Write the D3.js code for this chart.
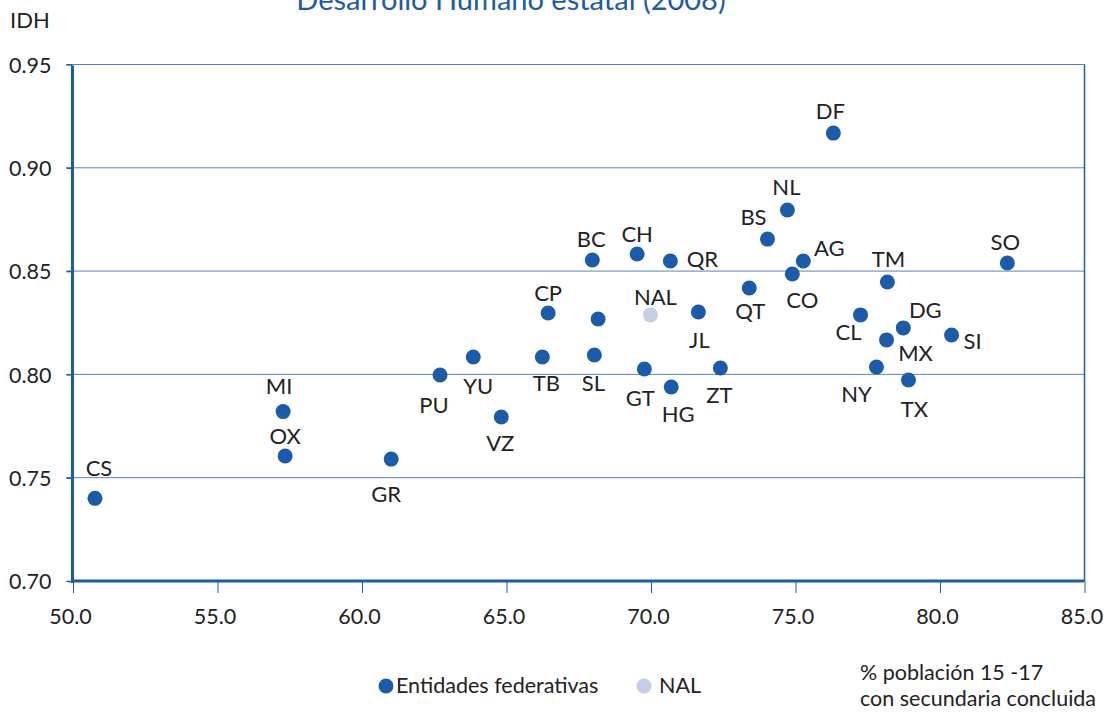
<!DOCTYPE html>
<html>
<head>
<meta charset="utf-8">
<script src="https://cdn.jsdelivr.net/npm/d3@7"></script>
<style>
  body { margin: 0; background: #fff; }
  svg { font-family: Lato, "Open Sans", sans-serif; }
</style>
</head>
<body>
<svg id="canvas" width="1107" height="713"></svg>
<script>
// State codes (NAL = national average, empty code = unlabeled state)
var CODES = ['CS', 'MI', 'OX', 'GR', 'PU', 'YU', 'VZ', 'CP', 'TB', 'BC', 'SL', '',
  'CH', 'QR', 'GT', 'HG', 'JL', 'ZT', 'QT', 'BS', 'NL', 'DF', 'AG', 'CO',
  'TM', 'SO', 'CL', 'DG', 'MX', 'SI', 'NY', 'TX', 'NAL'];

// % population 15-17 with completed secondary school
var PCT_SECONDARY = [50.76, 57.27, 57.34, 61.01, 62.70, 63.85, 64.82, 66.44, 66.24, 67.97, 68.04, 68.17,
  69.52, 70.67, 69.77, 70.70, 71.64, 72.40, 73.40, 74.03, 74.72, 76.31, 75.27, 74.89,
  78.18, 82.33, 77.25, 78.73, 78.15, 80.40, 77.80, 78.91, 69.98];

// State human development index
var IDH = [0.740, 0.782, 0.7605, 0.759, 0.7997, 0.8084, 0.7794, 0.8297, 0.8084, 0.8554, 0.8094, 0.8268,
  0.8583, 0.8549, 0.8026, 0.7939, 0.8302, 0.8031, 0.8418, 0.8655, 0.8796, 0.9168, 0.8549, 0.8486,
  0.8447, 0.8539, 0.8288, 0.8225, 0.8167, 0.8191, 0.8036, 0.7973, 0.8288];

var X_TICKS = [50, 55, 60, 65, 70, 75, 80, 85];
var Y_TICKS = [0.70, 0.75, 0.80, 0.85, 0.90, 0.95];

var LEGEND_LABELS = ['Entidades federativas', 'NAL'];

// Label offsets from the dot (layout only)
var LABEL_OFFSETS = {
  CS: [4, -22], MI: [-4, -18], OX: [0, -12], GR: [-5, 43], PU: [-6, 38],
  YU: [5, 37], VZ: [-1, 34], CP: [0, -12], TB: [4, 34], BC: [-1, -13],
  SL: [-1, 36], CH: [0, -12], QR: [32, 6], GT: [-4, 37], HG: [7, 35],
  JL: [1, 36], ZT: [-1, 35], QT: [1, 31], BS: [-14, -14], NL: [-1, -15],
  DF: [-3, -14], AG: [26, -5], CO: [10, 34], TM: [1, -15], SO: [-2, -13],
  CL: [-12, 25], DG: [22, -10], MX: [29, 21], SI: [21, 14], NY: [-20, 35],
  TX: [6, 37], NAL: [5, -10]
};

var BLUE = '#1a5cab';
var NAL_COLOR = '#c6cde6';
var TEXT = '#222';

var points = CODES.map(function (c, i) {
  return { code: c, x: PCT_SECONDARY[i], y: IDH[i] };
});

var canvas = d3.select('#canvas');

var xScale = d3.scaleLinear().domain([50, 85]).range([73, 1084.5]);
var yScale = d3.scaleLinear().domain([0.70, 0.95]).range([581, 64.5]);

// Title (cut at the top, as in the source)
canvas.append('text')
  .attr('x', 511)
  .attr('y', 10)
  .attr('text-anchor', 'middle')
  .attr('fill', BLUE)
  .style('font-size', '29px')
  .text('Desarrollo Humano estatal (2008)');

// Y axis title
canvas.append('text')
  .attr('x', 10)
  .attr('y', 28)
  .attr('fill', TEXT)
  .style('font-size', '22px')
  .text('IDH');

// Gridlines
canvas.append('g')
  .selectAll('line')
  .data(Y_TICKS.slice(1))
  .enter()
  .append('line')
  .attr('x1', 66)
  .attr('x2', xScale(85))
  .attr('y1', function (d) { return yScale(d); })
  .attr('y2', function (d) { return yScale(d); })
  .attr('stroke', BLUE)
  .attr('stroke-opacity', 0.75)
  .attr('stroke-width', 1);

// Right border
canvas.append('line')
  .attr('x1', xScale(85)).attr('x2', xScale(85))
  .attr('y1', yScale(0.95)).attr('y2', yScale(0.70))
  .attr('stroke', BLUE)
  .attr('stroke-width', 1.5);

// Y axis
var yAxis = d3.axisLeft(yScale)
  .tickValues(Y_TICKS)
  .tickSize(6)
  .tickPadding(15)
  .tickFormat(d3.format('.2f'));

var yAxisG = canvas.append('g')
  .attr('transform', 'translate(72.5,0)')
  .call(yAxis);

yAxisG.select('.domain').remove();
yAxisG.append('line')
  .attr('x1', 0).attr('x2', 0)
  .attr('y1', yScale(0.95) + 1).attr('y2', yScale(0.70) + 2)
  .attr('stroke', BLUE)
  .attr('stroke-width', 3);
yAxisG.selectAll('.tick line').attr('stroke', BLUE).attr('stroke-width', 1.5);
yAxisG.selectAll('.tick text')
  .attr('fill', TEXT)
  .attr('dy', '0.36em')
  .style('font-size', '21.5px')
  .style('font-family', 'Lato, sans-serif');

// X axis
var xAxis = d3.axisBottom(xScale)
  .tickValues(X_TICKS)
  .tickSize(12)
  .tickPadding(16)
  .tickFormat(d3.format('.1f'));

var xAxisG = canvas.append('g')
  .attr('transform', 'translate(0,581)')
  .call(xAxis);

xAxisG.select('.domain').remove();
xAxisG.append('line')
  .attr('x1', 71).attr('x2', xScale(85))
  .attr('y1', 0).attr('y2', 0)
  .attr('stroke', BLUE)
  .attr('stroke-width', 3);
xAxisG.selectAll('.tick line').attr('stroke', BLUE).attr('stroke-width', 1);
xAxisG.selectAll('.tick text')
  .attr('fill', TEXT)
  .attr('dx', '-3')
  .style('font-size', '21.5px')
  .style('font-family', 'Lato, sans-serif');

// Dots
canvas.append('g')
  .selectAll('circle')
  .data(points)
  .enter()
  .append('circle')
  .attr('cx', function (d) { return xScale(d.x); })
  .attr('cy', function (d) { return yScale(d.y); })
  .attr('r', 7.5)
  .attr('fill', function (d) { return d.code === 'NAL' ? NAL_COLOR : BLUE; });

// Dot labels
canvas.append('g')
  .selectAll('text')
  .data(points.filter(function (d) { return d.code !== ''; }))
  .enter()
  .append('text')
  .attr('x', function (d) { return xScale(d.x) + LABEL_OFFSETS[d.code][0]; })
  .attr('y', function (d) { return yScale(d.y) + LABEL_OFFSETS[d.code][1]; })
  .attr('text-anchor', 'middle')
  .attr('fill', TEXT)
  .style('font-size', '22px')
  .text(function (d) { return d.code; });

// Legend
var legend = canvas.append('g');
var legendX = [386, 644];
LEGEND_LABELS.forEach(function (label, i) {
  legend.append('circle')
    .attr('cx', legendX[i])
    .attr('cy', 686)
    .attr('r', 7.5)
    .attr('fill', i === 0 ? BLUE : NAL_COLOR);
  legend.append('text')
    .attr('x', legendX[i] + (i === 0 ? 10 : 15))
    .attr('y', 693)
    .attr('fill', TEXT)
    .style('font-size', '21.5px')
    .text(label);
});

// X axis title
var xTitle = canvas.append('text')
  .attr('fill', TEXT)
  .style('font-size', '21.5px');
xTitle.append('tspan').attr('x', 860).attr('y', 680).text('% población 15 -17');
xTitle.append('tspan').attr('x', 860).attr('y', 706).text('con secundaria concluida');
</script>
</body>
</html>
